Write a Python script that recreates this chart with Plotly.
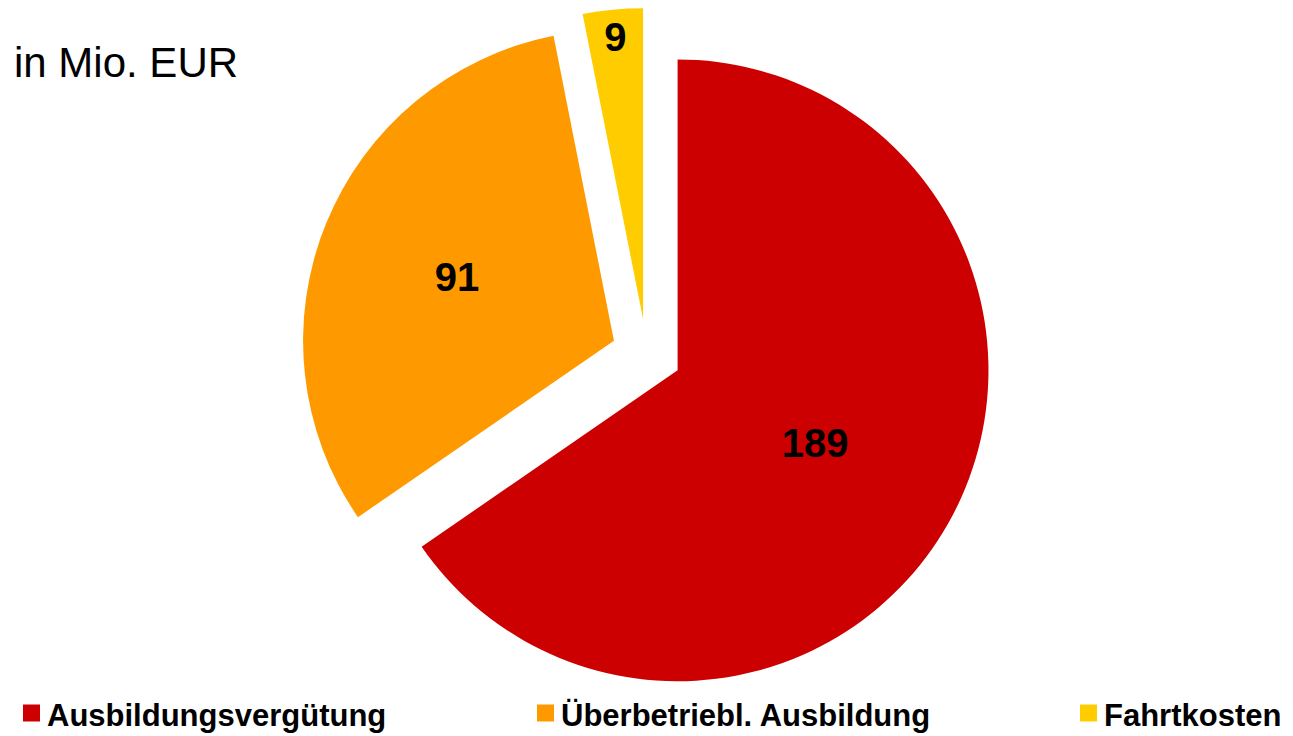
import plotly.graph_objects as go

categories = ["Ausbildungsvergütung", "Überbetriebl. Ausbildung", "Fahrtkosten"]
values = [189, 91, 9]
colors = ["#CC0000", "#FF9900", "#FFCC00"]
unit_label = "in Mio. EUR"

W, H = 1293, 736
M_T, M_B = 8, 36
PLOT_H = H - M_T - M_B

FONT = "Liberation Sans, Arial, sans-serif"

fig = go.Figure(
    go.Pie(
        labels=categories,
        values=values,
        sort=False,
        direction="clockwise",
        rotation=0,
        pull=[0.113] * len(values),
        marker=dict(colors=colors, line=dict(width=0)),
        textinfo="value",
        textposition="inside",
        insidetextorientation="horizontal",
        textfont=dict(family=FONT, size=40, color="black", weight="bold"),
        domain=dict(x=[0, 1], y=[0, 1]),
        hoverinfo="label+value",
        showlegend=False,
    )
)


def py(pixel_y):
    """convert a page pixel y into paper coordinates"""
    return (H - M_B - pixel_y) / PLOT_H


fig.add_annotation(
    text=unit_label,
    xref="paper", yref="paper",
    x=12 / W, y=py(62),
    xanchor="left", yanchor="middle",
    showarrow=False,
    font=dict(family=FONT, size=42, color="black"),
)

# legend row (key squares + labels), laid out like the original slide legend
legend_x = [23, 537, 1080]
sq = 17
leg_cy = 714
for name, col, lx in zip(categories, colors, legend_x):
    fig.add_shape(
        type="rect", xref="paper", yref="paper",
        x0=lx / W, x1=(lx + sq) / W,
        y0=py(leg_cy - sq / 2 - 1), y1=py(leg_cy + sq / 2 - 1),
        fillcolor=col, line=dict(width=0),
    )
    fig.add_annotation(
        text=name,
        xref="paper", yref="paper",
        x=(lx + sq + 5) / W, y=py(leg_cy + 1),
        xanchor="left", yanchor="middle",
        showarrow=False,
        font=dict(family=FONT, size=31, color="black", weight="bold"),
    )

fig.update_layout(
    width=W, height=H,
    margin=dict(l=0, r=0, t=M_T, b=M_B),
    paper_bgcolor="white",
    plot_bgcolor="white",
    showlegend=False,
)

fig.write_html(
    "out.html",
    config={"displayModeBar": False},
    post_script="document.body.style.margin='0';document.body.style.overflow='hidden';",
)
